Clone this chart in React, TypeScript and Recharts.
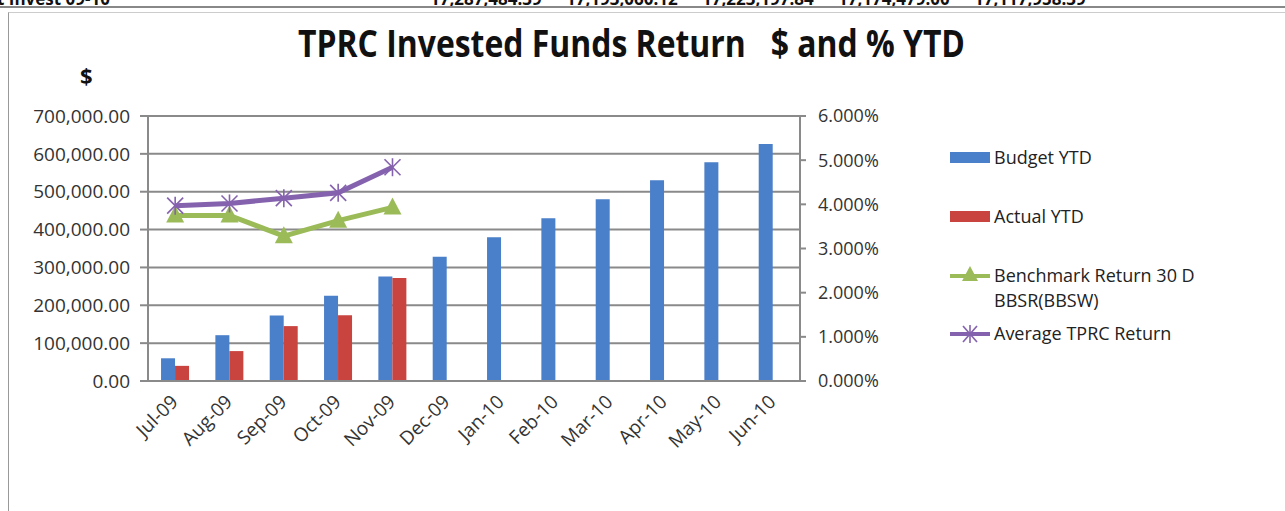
import React from 'react';
import {
  ComposedChart, Bar, Line, XAxis, YAxis, CartesianGrid
} from 'recharts';

// chart values
const months = ['Jul-09', 'Aug-09', 'Sep-09', 'Oct-09', 'Nov-09', 'Dec-09', 'Jan-10', 'Feb-10', 'Mar-10', 'Apr-10', 'May-10', 'Jun-10'];
const budgetYtd = [60000, 121000, 173000, 225000, 276000, 328000, 380000, 430000, 480000, 530000, 578000, 626000];
const actualYtd = [40000, 79000, 145000, 174000, 272000, null, null, null, null, null, null, null];
const benchmarkReturn = [0.0375, 0.0375, 0.0328, 0.0363, 0.0393, null, null, null, null, null, null, null];
const avgTprcReturn = [0.0397, 0.0402, 0.0414, 0.0426, 0.0484, null, null, null, null, null, null, null];

const leftTicks = [0, 100000, 200000, 300000, 400000, 500000, 600000, 700000];
const rightTicks = [0, 0.01, 0.02, 0.03, 0.04, 0.05, 0.06];
const edgeTicks = [0, 1, 2, 3, 4, 5, 6, 7, 8, 9, 10, 11, 12];

// header row above the chart (cut off in the picture)
const headerNumbers = ['17,287,484.39', '17,193,060.12', '17,223,197.84', '17,174,479.00', '17,117,958.39'];

const BLUE = '#4A7FC9';
const RED = '#C9433F';
const GREEN = '#9BBB59';
const PURPLE = '#8562AE';
const FONT = '"Open Sans", sans-serif';

const data = months.map((m, i) => ({
  month: m,
  idx: i + 0.5,
  budget: budgetYtd[i],
  actual: actualYtd[i],
  bench: benchmarkReturn[i],
  avg: avgTprcReturn[i],
}));

const fmtMoney = (v: number) =>
  v.toLocaleString('en-US', { minimumFractionDigits: 2, maximumFractionDigits: 2 });
const fmtPct = (v: number) => `${(v * 100).toFixed(3)}%`;

const TriangleDot = (props: any) => {
  const { cx, cy } = props;
  if (cx == null || cy == null) return null;
  return <path d={`M${cx},${cy - 10} L${cx + 9},${cy + 7} L${cx - 9},${cy + 7} Z`} fill={GREEN} />;
};

const StarDot = (props: any) => {
  const { cx, cy } = props;
  if (cx == null || cy == null) return null;
  return (
    <g stroke={PURPLE} strokeWidth={1.6}>
      <line x1={cx - 8} y1={cy - 8} x2={cx + 8} y2={cy + 8} />
      <line x1={cx - 8} y1={cy + 8} x2={cx + 8} y2={cy - 8} />
      <line x1={cx} y1={cy - 9} x2={cx} y2={cy + 9} />
    </g>
  );
};

const MonthTick = (props: any) => {
  const { x, y, payload } = props;
  return (
    <text
      x={x + 4}
      y={y + 14}
      textAnchor="end"
      transform={`rotate(-45 ${x + 4} ${y + 14})`}
      fontFamily={FONT}
      fontSize={19}
      fill="#333"
    >
      {payload.value}
    </text>
  );
};

const LegendBox = () => {
  const label = { fontFamily: FONT, fontSize: 18, color: '#222', lineHeight: '25px' };
  return (
    <div style={{ position: 'absolute', left: 950, top: 145, width: 300, height: 220 }}>
      <div style={{ position: 'absolute', left: 0, top: 0, display: 'flex', alignItems: 'center' }}>
        <div style={{ width: 40, height: 11, background: BLUE, marginRight: 4 }} />
        <span style={label}>Budget YTD</span>
      </div>
      <div style={{ position: 'absolute', left: 0, top: 59, display: 'flex', alignItems: 'center' }}>
        <div style={{ width: 40, height: 11, background: RED, marginRight: 4 }} />
        <span style={label}>Actual YTD</span>
      </div>
      <div style={{ position: 'absolute', left: 0, top: 118, display: 'flex', alignItems: 'flex-start' }}>
        <svg width={44} height={25} style={{ flex: 'none' }}>
          <line x1={0} y1={13} x2={40} y2={13} stroke={GREEN} strokeWidth={4} />
          <path d="M20,3 L28,18 L12,18 Z" fill={GREEN} />
        </svg>
        <span style={label}>Benchmark Return 30 D<br />BBSR(BBSW)</span>
      </div>
      <div style={{ position: 'absolute', left: 0, top: 176, display: 'flex', alignItems: 'center' }}>
        <svg width={44} height={25} style={{ flex: 'none' }}>
          <line x1={0} y1={13} x2={40} y2={13} stroke={PURPLE} strokeWidth={4} />
          <g stroke={PURPLE} strokeWidth={1.6}>
            <line x1={13} y1={5} x2={27} y2={21} />
            <line x1={13} y1={21} x2={27} y2={5} />
            <line x1={20} y1={4} x2={20} y2={22} />
          </g>
        </svg>
        <span style={label}>Average TPRC Return</span>
      </div>
    </div>
  );
};

const App = () => {
  return (
    <div style={{ position: 'absolute', left: 0, top: 0, width: 1285, height: 511, background: '#fff', overflow: 'hidden' }}>
      {/* cut-off header row */}
      <div style={{ position: 'absolute', left: -3, top: -13, fontFamily: FONT, fontWeight: 700, fontSize: 17, color: '#111' }}>
        t Invest 09-10
      </div>
      {headerNumbers.map((n, i) => (
        <div
          key={n}
          style={{ position: 'absolute', left: 430 + i * 136, top: -13, fontFamily: FONT, fontWeight: 700, fontSize: 17, color: '#111' }}
        >
          {n}
        </div>
      ))}
      <div style={{ position: 'absolute', left: 0, top: 6, width: 1285, height: 0, borderTop: '2px solid #888' }} />
      <div style={{ position: 'absolute', left: 8, top: 12, width: 1285, height: 511, borderLeft: '1px solid #999', borderTop: '1px solid #ccc' }} />

      <svg style={{ position: 'absolute', left: 0, top: 0 }} width={1285} height={100}>
        <text
          x={298}
          y={57}
          textLength={667}
          lengthAdjust="spacingAndGlyphs"
          fontFamily={FONT}
          fontWeight={700}
          fontSize={38}
          fill="#111"
          style={{ whiteSpace: 'pre' }}
        >
          TPRC Invested Funds Return   $ and % YTD
        </text>
        <text x={80} y={84} fontFamily={FONT} fontWeight={700} fontSize={22} fill="#111">$</text>
      </svg>

      <ComposedChart
        width={1285}
        height={511}
        data={data}
        margin={{ top: 116, right: 385, bottom: 49, left: 0 }}
        barCategoryGap="24%"
        barGap={0}
        style={{ position: 'absolute', left: 0, top: 0 }}
      >
        <CartesianGrid horizontal vertical={false} stroke="#8a8a8a" strokeWidth={2} yAxisId="left" />
        <XAxis
          xAxisId="cat"
          dataKey="month"
          interval={0}
          tick={<MonthTick />}
          tickLine={false}
          axisLine={{ stroke: '#8a8a8a', strokeWidth: 2 }}
          height={80}
        />
        <XAxis
          xAxisId="edges"
          type="number"
          dataKey="idx"
          domain={[0, 12]}
          ticks={edgeTicks}
          tick={false}
          tickSize={9}
          tickLine={{ stroke: '#8a8a8a', strokeWidth: 2 }}
          axisLine={false}
          height={1}
        />
        <YAxis
          yAxisId="left"
          domain={[0, 700000]}
          ticks={leftTicks}
          tickFormatter={fmtMoney}
          width={148}
          tickSize={8}
          tickMargin={10}
          tickLine={{ stroke: '#8a8a8a', strokeWidth: 2 }}
          axisLine={{ stroke: '#8a8a8a', strokeWidth: 2 }}
          tick={{ fontFamily: FONT, fontSize: 19, fill: '#333' }}
        />
        <YAxis
          yAxisId="right"
          orientation="right"
          domain={[0, 0.06]}
          ticks={rightTicks}
          tickFormatter={fmtPct}
          width={100}
          tickSize={6}
          tickMargin={12}
          tickLine={{ stroke: '#8a8a8a', strokeWidth: 2 }}
          axisLine={{ stroke: '#8a8a8a', strokeWidth: 2 }}
          tick={{ fontFamily: FONT, fontSize: 18, fill: '#333' }}
        />
        <Bar xAxisId="cat" yAxisId="left" dataKey="budget" name="Budget YTD" fill={BLUE} isAnimationActive={false} />
        <Bar xAxisId="cat" yAxisId="left" dataKey="actual" name="Actual YTD" fill={RED} isAnimationActive={false} />
        <Line
          xAxisId="cat"
          yAxisId="right"
          dataKey="bench"
          name="Benchmark Return 30 D BBSR(BBSW)"
          stroke={GREEN}
          strokeWidth={5}
          dot={<TriangleDot />}
          activeDot={false}
          connectNulls={false}
          isAnimationActive={false}
        />
        <Line
          xAxisId="cat"
          yAxisId="right"
          dataKey="avg"
          name="Average TPRC Return"
          stroke={PURPLE}
          strokeWidth={5}
          dot={<StarDot />}
          activeDot={false}
          connectNulls={false}
          isAnimationActive={false}
        />
      </ComposedChart>
      <LegendBox />
    </div>
  );
};

export default App;
